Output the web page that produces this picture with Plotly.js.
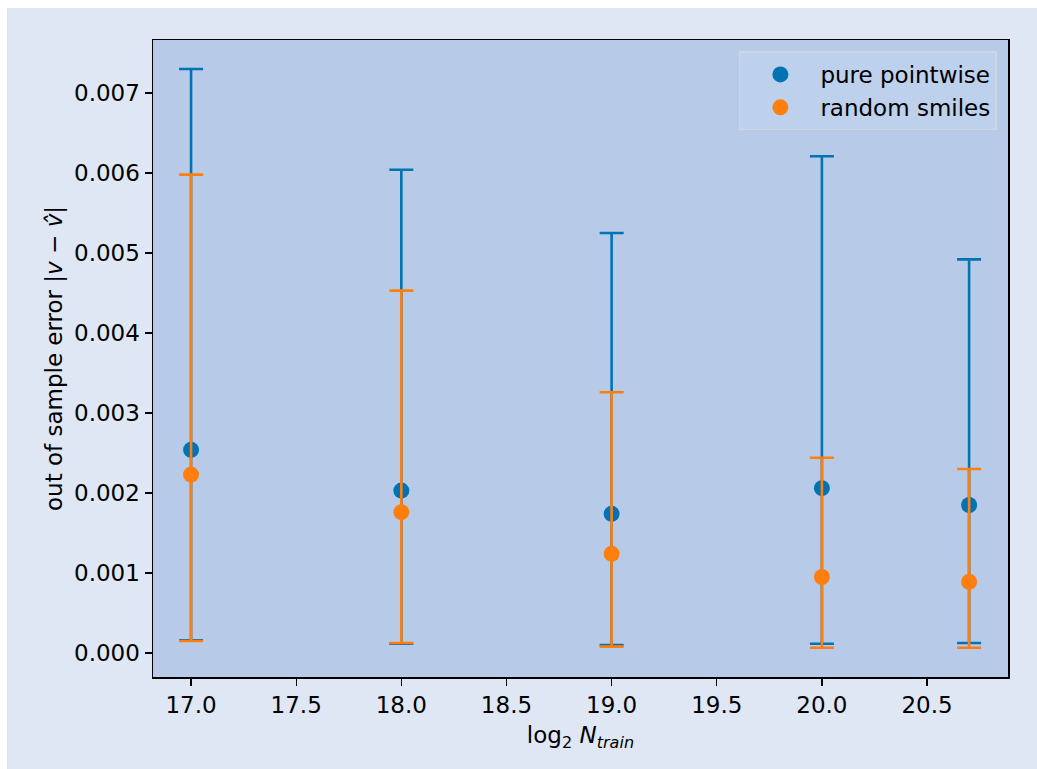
<!DOCTYPE html>
<html>
<head>
<meta charset="utf-8">
<script src="https://cdn.plot.ly/plotly-3.0.1.min.js"></script>
<style>
  html, body { margin: 0; padding: 0; background: #ffffff; }
  #chart { position: absolute; left: 7px; top: 8px; width: 1030px; height: 761px; }
</style>
</head>
<body>
<div id="chart"></div>
<script>
// Data
const xVals = [17.0, 18.0, 19.0, 20.0, 20.7];

const pointwiseMean  = [0.00254, 0.00203, 0.00174, 0.00206, 0.00185];
const pointwiseUpper = [0.00730, 0.00604, 0.00525, 0.00621, 0.00492];
const pointwiseLower = [0.000160, 0.000115, 0.000100, 0.000115, 0.000125];

const smilesMean  = [0.00223, 0.00176, 0.00124, 0.00095, 0.00089];
const smilesUpper = [0.00598, 0.00453, 0.00326, 0.00244, 0.00230];
const smilesLower = [0.000150, 0.000125, 0.000080, 0.000065, 0.000065];

const xTicks = [17.0, 17.5, 18.0, 18.5, 19.0, 19.5, 20.0, 20.5];
const xTickText = ["17.0", "17.5", "18.0", "18.5", "19.0", "19.5", "20.0", "20.5"];
const yTicks = [0, 0.001, 0.002, 0.003, 0.004, 0.005, 0.006, 0.007];
const yTickText = ["0.000", "0.001", "0.002", "0.003", "0.004", "0.005", "0.006", "0.007"];

const blue = '#0173b2';
const orange = '#ff7f0e';

function plus(up, mean) { return up.map((u, i) => u - mean[i]); }
function minus(lo, mean) { return lo.map((l, i) => mean[i] - l); }

const traces = [
  {
    x: xVals, y: pointwiseMean, type: 'scatter', mode: 'markers',
    name: 'pure pointwise',
    marker: { color: blue, size: 16 },
    error_y: { type: 'data', symmetric: false,
      array: plus(pointwiseUpper, pointwiseMean),
      arrayminus: minus(pointwiseLower, pointwiseMean),
      color: blue, thickness: 2.6, width: 12 }
  },
  {
    x: xVals, y: smilesMean, type: 'scatter', mode: 'markers',
    name: 'random smiles',
    marker: { color: orange, size: 16 },
    error_y: { type: 'data', symmetric: false,
      array: plus(smilesUpper, smilesMean),
      arrayminus: minus(smilesLower, smilesMean),
      color: orange, thickness: 2.6, width: 12 }
  }
];

const font = { family: 'DejaVu Sans, sans-serif', size: 23, color: '#000000' };

const layout = {
  width: 1030, height: 761,
  paper_bgcolor: '#e0e7f4',
  plot_bgcolor: '#b7cbe9',
  margin: { l: 146, r: 29, t: 32, b: 92 },
  font: font,
  showlegend: true,
  legend: {
    x: 0.987, y: 0.982, xanchor: 'right', yanchor: 'top',
    bgcolor: 'rgba(190,208,236,0.9)', bordercolor: '#cfd6df', borderwidth: 1.5,
    font: { family: 'DejaVu Sans, sans-serif', size: 23, color: '#000' },
    itemsizing: 'trace', itemwidth: 70, tracegroupgap: 4
  },
  xaxis: {
    range: [16.819, 20.885],
    tickvals: xTicks, ticktext: xTickText,
    showgrid: false, zeroline: false,
    ticks: 'outside', ticklen: 7, tickwidth: 1.3, tickcolor: '#000',
    showline: true, linecolor: '#000', linewidth: 1.5, mirror: true,
    title: { text: 'log<sub>2</sub> <i>N<sub>train</sub></i>', font: font, standoff: 10 }
  },
  yaxis: {
    range: [-0.0003, 0.0076625],
    tickvals: yTicks, ticktext: yTickText,
    showgrid: false, zeroline: false,
    ticks: 'outside', ticklen: 7, tickwidth: 1.3, tickcolor: '#000',
    showline: true, linecolor: '#000', linewidth: 1.5, mirror: true,
    title: { text: 'out of sample error |<i>v</i> − <i>v\u0302</i>|', font: font, standoff: 5 }
  }
};

Plotly.newPlot('chart', traces, layout, { displayModeBar: false, staticPlot: true });
</script>
</body>
</html>
